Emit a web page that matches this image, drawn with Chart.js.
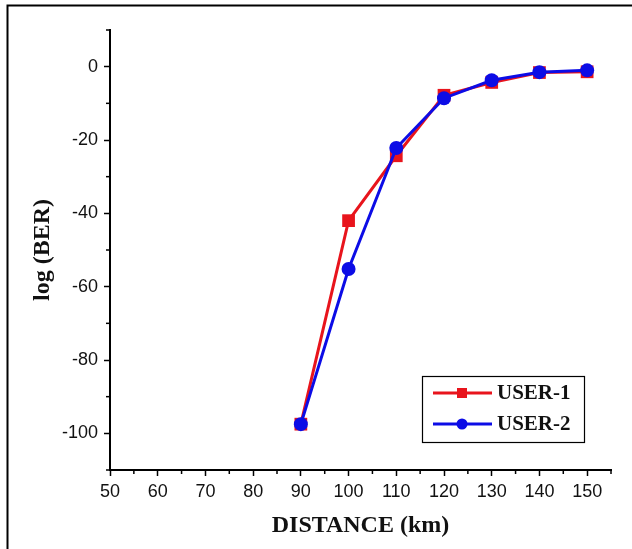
<!DOCTYPE html>
<html>
<head>
<meta charset="utf-8">
<script src="https://cdn.jsdelivr.net/npm/chart.js@4/dist/chart.umd.min.js"></script>
<style>
html,body{margin:0;padding:0;background:#fff;}
#wrap{position:relative;width:632px;height:549px;}
</style>
</head>
<body>
<div id="wrap"><canvas id="c" width="632" height="549"></canvas></div>
<script>
const distances = [90, 100, 110, 120, 130, 140, 150];
const user1 = [-97.5, -42, -24.3, -7.8, -4.3, -1.6, -1.4];
const user2 = [-97.5, -55.2, -22.2, -8.6, -3.7, -1.5, -1.0];
const seriesNames = ['USER-1', 'USER-2'];
const xTickLabels = [50, 60, 70, 80, 90, 100, 110, 120, 130, 140, 150];
const yTickLabels = [0, -20, -40, -60, -80, -100];

const RED = '#e8141c';
const BLUE = '#0c0ce6';

const framePlugin = {
  id: 'frame',
  beforeDraw(chart) {
    const ctx = chart.ctx;
    ctx.save();
    ctx.fillStyle = '#fff';
    ctx.fillRect(0, 0, chart.width, chart.height);
    ctx.strokeStyle = '#000';
    ctx.lineWidth = 2;
    ctx.beginPath();
    ctx.moveTo(7.5, chart.height);
    ctx.lineTo(7.5, 5.5);
    ctx.lineTo(chart.width, 5.5);
    ctx.stroke();
    ctx.restore();
  }
};

const minorTickPlugin = {
  id: 'minorTicks',
  afterDraw(chart) {
    const ctx = chart.ctx;
    ctx.save();
    ctx.strokeStyle = '#000';
    ctx.lineWidth = 1.5;
    const xs = chart.scales.x, ys = chart.scales.y;
    xs.ticks.forEach(t => {
      if (!xTickLabels.includes(t.value)) {
        const px = xs.getPixelForValue(t.value);
        ctx.beginPath(); ctx.moveTo(px, xs.top); ctx.lineTo(px, xs.top + 4); ctx.stroke();
      }
    });
    ys.ticks.forEach(t => {
      if (!yTickLabels.includes(t.value)) {
        const py = ys.getPixelForValue(t.value);
        ctx.beginPath(); ctx.moveTo(ys.right, py); ctx.lineTo(ys.right - 4, py); ctx.stroke();
      }
    });
    ctx.restore();
  }
};

const legendPlugin = {
  id: 'boxLegend',
  afterDraw(chart) {
    const ctx = chart.ctx;
    ctx.save();
    ctx.strokeStyle = '#000';
    ctx.lineWidth = 1.2;
    ctx.strokeRect(422.5, 376.5, 162, 66);
    const rows = [
      {y: 393, color: RED, style: 'rect', label: seriesNames[0]},
      {y: 424, color: BLUE, style: 'circle', label: seriesNames[1]}
    ];
    rows.forEach(r => {
      ctx.strokeStyle = r.color;
      ctx.lineWidth = 3;
      ctx.beginPath(); ctx.moveTo(433, r.y); ctx.lineTo(492, r.y); ctx.stroke();
      ctx.fillStyle = r.color;
      if (r.style === 'rect') {
        ctx.fillRect(457, r.y - 5, 10, 10);
      } else {
        ctx.beginPath(); ctx.arc(462, r.y, 5.5, 0, Math.PI * 2); ctx.fill();
      }
      ctx.fillStyle = '#111';
      ctx.font = 'bold 21px "Liberation Serif", "Times New Roman", serif';
      ctx.textBaseline = 'middle';
      ctx.textAlign = 'left';
      ctx.fillText(r.label, 497, r.y + 1);
    });
    ctx.restore();
  }
};

new Chart(document.getElementById('c'), {
  type: 'line',
  data: {
    labels: distances,
    datasets: [
      {
        label: seriesNames[0],
        data: distances.map((d, i) => ({x: d, y: user1[i]})),
        borderColor: RED,
        backgroundColor: RED,
        pointStyle: 'rect',
        pointRadius: 9,
        pointBorderWidth: 0,
        borderWidth: 3,
        tension: 0,
        order: 2
      },
      {
        label: seriesNames[1],
        data: distances.map((d, i) => ({x: d, y: user2[i]})),
        borderColor: BLUE,
        backgroundColor: BLUE,
        pointStyle: 'circle',
        pointRadius: 7,
        pointBorderWidth: 0,
        borderWidth: 3,
        tension: 0,
        order: 1
      }
    ]
  },
  options: {
    responsive: false,
    animation: false,
    events: [],
    layout: {padding: {top: 30, right: 21, left: 0, bottom: 0}},
    plugins: {legend: {display: false}, tooltip: {enabled: false}},
    scales: {
      x: {
        type: 'linear',
        min: 50, max: 155,
        afterFit(scale) { scale.height = 79; },
        border: {display: true, color: '#000', width: 2},
        grid: {
          display: true, drawOnChartArea: false, drawTicks: true, tickLength: 6, tickWidth: 1.5,
          tickColor: ctx => (xTickLabels.includes(ctx.tick && ctx.tick.value) ? '#000' : 'rgba(0,0,0,0)')
        },
        ticks: {
          stepSize: 5,
          autoSkip: false,
          maxRotation: 0,
          padding: 5,
          color: '#111',
          font: {family: '"Liberation Sans", Arial, sans-serif', size: 18},
          callback: v => (xTickLabels.includes(v) ? String(v) : '')
        },
        title: {
          display: true,
          text: 'DISTANCE (km)',
          color: '#111',
          font: {family: '"Liberation Serif", "Times New Roman", serif', size: 24, weight: 'bold'},
          padding: {top: 0, bottom: 9}
        }
      },
      y: {
        type: 'linear',
        min: -110, max: 10,
        afterFit(scale) { scale.width = 110; },
        border: {display: true, color: '#000', width: 2},
        grid: {
          display: true, drawOnChartArea: false, drawTicks: true, tickLength: 6, tickWidth: 1.5,
          tickColor: ctx => (yTickLabels.includes(ctx.tick && ctx.tick.value) ? '#000' : 'rgba(0,0,0,0)')
        },
        ticks: {
          stepSize: 10,
          autoSkip: false,
          padding: 6,
          color: '#111',
          font: {family: '"Liberation Sans", Arial, sans-serif', size: 18},
          callback: v => (yTickLabels.includes(v) ? String(v) : '')
        },
        title: {
          display: true,
          text: 'log (BER)',
          color: '#111',
          font: {family: '"Liberation Serif", "Times New Roman", serif', size: 24, weight: 'bold'},
          padding: {top: 28, bottom: 0}
        }
      }
    }
  },
  plugins: [framePlugin, minorTickPlugin, legendPlugin]
});
</script>
</body>
</html>
